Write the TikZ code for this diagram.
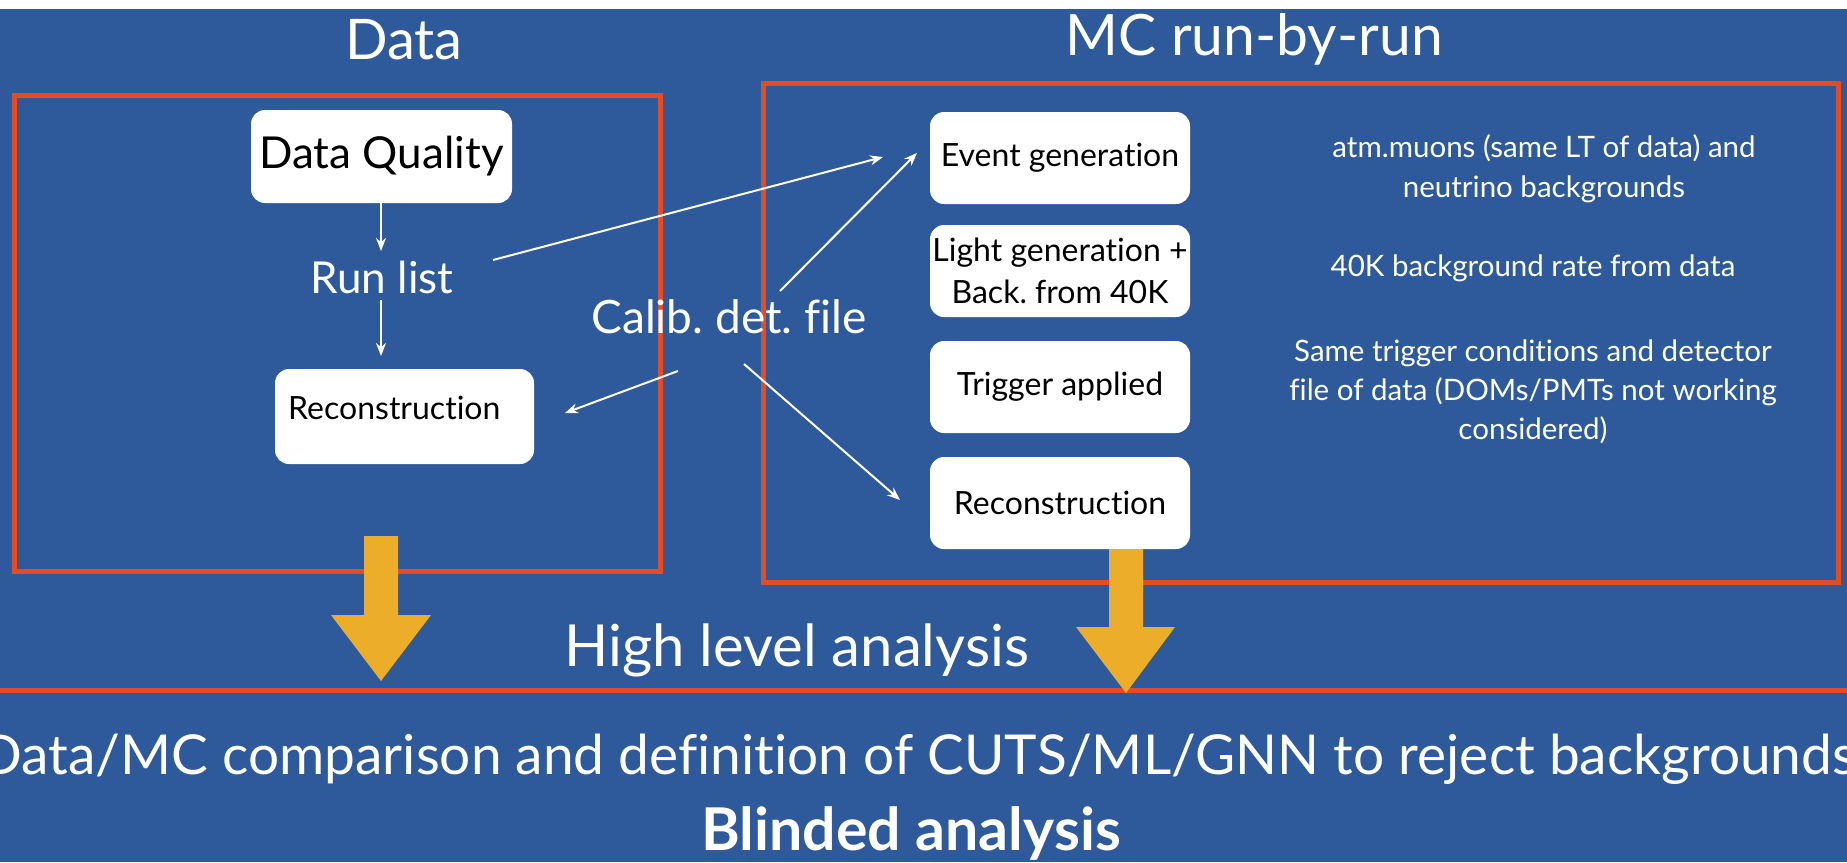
\documentclass[tikz,border=0pt]{standalone}
\usepackage{fontspec}
\setmainfont{Lato}[Ligatures=NoCommon]
\usetikzlibrary{arrows.meta}
\definecolor{bgblue}{RGB}{46,90,155}
\definecolor{frameorange}{RGB}{229,76,36}
\definecolor{arrowyellow}{RGB}{236,174,42}
\frenchspacing
\begin{document}
\begin{tikzpicture}[x=1pt,y=-1pt,
  frame/.style={draw=frameorange, line width=5pt},
  wbox/.style={fill=white, rounded corners=14pt, draw=none, inner sep=0pt,
    minimum width=260pt, minimum height=92pt, text=black, align=center,
    font=\fontsize{32}{42}\selectfont},
  lbl/.style={text=white, inner sep=0pt, anchor=base},
  desc/.style={text=white, inner sep=0pt, anchor=base, align=center,
    font=\fontsize{29.5}{40}\selectfont},
  thinarrow/.style={draw=white, line width=2pt, -{Stealth[length=13pt,width=10pt]}},
  fatarrow/.style={fill=arrowyellow, draw=none}]
\useasboundingbox (0,0) rectangle (1847,862);
\fill[white] (0,0) rectangle (1847,862);
\fill[bgblue] (0,9) rectangle (1847,862);

% titles
\node[lbl, font=\fontsize{56}{60}\selectfont] (tdata) at (404,59) {Data};
\node[lbl, font=\fontsize{57}{60}\selectfont] (tmc) at (1254,55) {MC run-by-run};

% frames
\draw[frame] (14,95) rectangle (660,571);
\draw[frame] (763,83) rectangle (1838,582);
\draw[frame] (0,690) -- (1847,690);

% data side
\node[wbox, minimum width=261pt, minimum height=93pt, font=\fontsize{44}{48}\selectfont] (dq) at (381.5,156.5) {Data Quality};
\node[lbl, font=\fontsize{44}{48}\selectfont] (runlist) at (382,293) {Run list};
\node[wbox, minimum width=259pt, minimum height=95pt] (lreco) at (404.5,416.5) {};
\node[lbl, text=black, anchor=base west, font=\fontsize{32}{36}\selectfont] (lrecotext) at (288,419) {Reconstruction};

\node[lbl, font=\fontsize{46}{50}\selectfont] (calib) at (729,333) {Calib. det. file};

% MC side
\node[wbox] (evgen) at (1060,158) {Event generation};
\node[wbox] (light) at (1060,271) {Light generation +\\ Back. from 40K};
\node[wbox] (trig) at (1060,387) {Trigger applied};
\node[wbox] (mreco) at (1060,503) {Reconstruction};

% descriptions
\node[desc] (d1) at (1544,197) {atm.muons (same LT of data) and\\ neutrino backgrounds};
\node[desc] (d2) at (1533,276) {40K background rate from data};
\node[desc, font=\fontsize{29.5}{39}\selectfont] (d3) at (1533,439) {Same trigger conditions and detector\\ file of data (DOMs/PMTs not working\\ considered)};

% bottom texts
\node[lbl, font=\fontsize{58}{60}\selectfont] (hla) at (797,666) {High level analysis};
\node[lbl, font=\fontsize{55}{60}\selectfont] (cmp) at (918,774) {Data/MC comparison and definition of CUTS/ML/GNN to reject backgrounds};
\node[lbl, font=\fontsize{59}{60}\selectfont\bfseries] (blind) at (911,850) {Blinded analysis};

% thin arrows
\coordinate (dqout) at (381,203);
\coordinate (rlin) at (381,251);
\coordinate (rlout) at (381,300);
\coordinate (lrin) at (381,356);
\draw[thinarrow] (dqout) -- (rlin);
\draw[thinarrow] (rlout) -- (lrin);
\coordinate (rlright) at (493,260);
\coordinate (evin1) at (883,157);
\draw[thinarrow] (rlright) -- (evin1);
\coordinate (cbup) at (780,291);
\coordinate (evin2) at (917,153);
\draw[thinarrow] (cbup) -- (evin2);
\coordinate (cbleft) at (678,371);
\coordinate (lrin2) at (565,413);
\draw[thinarrow] (cbleft) -- (lrin2);
\coordinate (cbdown) at (744,364);
\coordinate (mrin) at (900,500);
\draw[thinarrow] (cbdown) -- (mrin);

% yellow arrows
\fill[fatarrow] (364,536) -- (398,536) -- (398,615) -- (431,615) -- (381,681) -- (331,615) -- (364,615) -- cycle;
\fill[fatarrow] (1109,549) -- (1143,549) -- (1143,627) -- (1175,627) -- (1126,693) -- (1076,627) -- (1109,627) -- cycle;
\end{tikzpicture}
\end{document}
